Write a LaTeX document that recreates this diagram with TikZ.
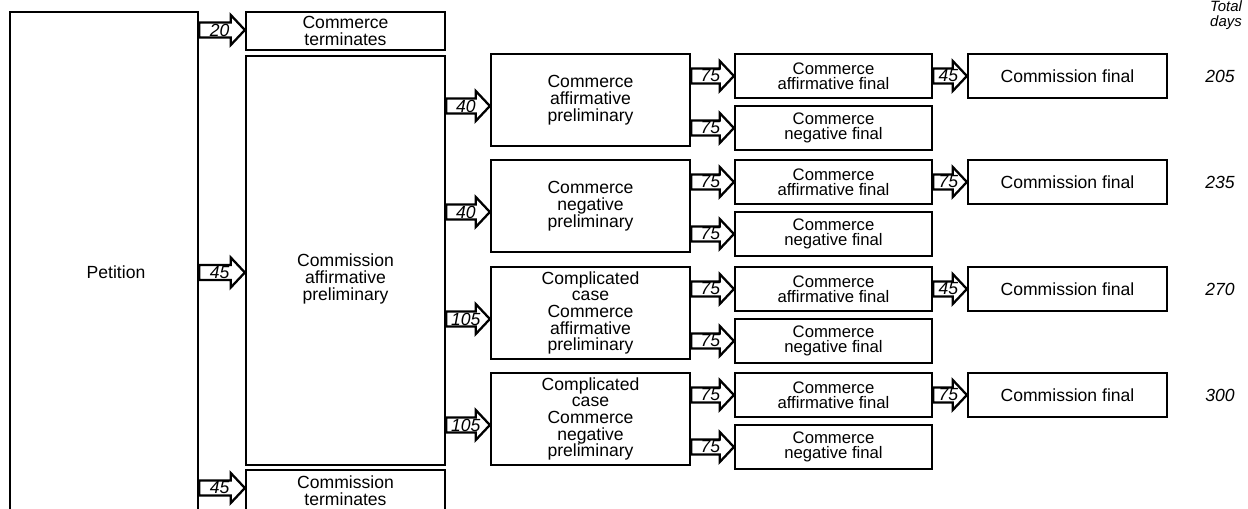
\documentclass[tikz,border=0pt]{standalone}
\usepackage{fontspec}
\setmainfont{Liberation Sans}
\usetikzlibrary{calc}
\tikzset{
    tnode/.style = {align=center, inner sep=0pt, text centered},
    main_box/.style = {tnode, rectangle, draw=black, line width=1.3pt, font=\fontsize{10}{9.5}\selectfont},
    small_box/.style = {main_box, font=\fontsize{9.5}{8.5}\selectfont, minimum height=0.88cm},
    flow_line/.style = {draw=black, fill=white, line width=1.3pt, line join=miter},
    flow_label/.style = {tnode, font=\fontsize{10}{10}\selectfont\itshape},
    total_node/.style = {tnode, font=\fontsize{10}{8}\selectfont\itshape}
}
% block arrow: source, target, y offset (px), days
\newcommand{\flow}[4]{%
    \draw[flow_line] let \p1=($(#1.east |- #2.west)+(0,#3)$), \p2=($(#2.west)+(0,#3)$) in
        (\x1,\y1+4.25pt) -- (\x2-8pt,\y1+4.25pt) -- (\x2-8pt,\y1+8.5pt) -- (\x2,\y1)
        -- (\x2-8pt,\y1-8.5pt) -- (\x2-8pt,\y1-4.25pt) -- (\x1,\y1-4.25pt) -- cycle
        ($(\p1)!0.45!(\p2)$) node[flow_label] (lbl-#2) {#4};
}

\begin{document}
\begin{tikzpicture}[x=0.02cm, y=-0.02cm]
    \useasboundingbox (0,0) rectangle (1248,508);
    \clip (0,0) rectangle (1248,508);
    \node [main_box, minimum width=3.76cm, minimum height=10.4cm] (petition) at (104,272) {};
    \node [tnode, font=\fontsize{10}{9.5}\selectfont] (pettext) at (116,272) {Petition};
    \node [main_box, minimum width=3.98cm, minimum height=0.76cm] (cterm) at (345.5,31) {Commerce\\terminates};
    \node [main_box, minimum width=3.98cm, minimum height=8.18cm] (cap) at (345.5,260.5) {};
    \node [tnode, font=\fontsize{10}{9.5}\selectfont] (captext) at (345.5,279) {Commission\\affirmative\\preliminary};
    \node [main_box, minimum width=3.98cm, minimum height=0.84cm] (kterm) at (345.5,491) {Commission\\terminates};
    \node [total_node, font=\fontsize{8.5}{8.5}\selectfont\itshape] (total) at (1226,15) {Total\\days};
    \flow{petition}{cterm}{-1}{20}
    \flow{petition}{cap}{12}{45}
    \flow{petition}{kterm}{-3}{45}
    \foreach \g/\gy/\txt/\din/\dfin/\tot in {
        1/54/{Commerce\\affirmative\\preliminary}/40/45/205,
        2/160/{Commerce\\negative\\preliminary}/40/75/235,
        3/267/{Complicated\\case\\Commerce\\affirmative\\preliminary}/105/45/270,
        4/373/{Complicated\\case\\Commerce\\negative\\preliminary}/105/75/300}
    {
        \node [main_box, minimum width=3.98cm, minimum height=1.84cm] (mid\g) at (590.5,\gy+46) {\txt};
        \node [small_box, minimum width=3.94cm] (aff\g) at (833.5,\gy+22) {Commerce\\affirmative final};
        \node [small_box, minimum width=3.94cm] (neg\g) at (833.5,\gy+74) {Commerce\\negative final};
        \node [small_box, minimum width=3.98cm, font=\fontsize{10}{10}\selectfont] (fin\g) at (1067.5,\gy+22) {Commission final};
        \node [total_node] (tot\g) at (1220,\gy+22) {\tot};
        \flow{cap}{mid\g}{6}{\din}
        \flow{mid\g}{aff\g}{0}{75}
        \flow{mid\g}{neg\g}{0}{75}
        \flow{aff\g}{fin\g}{0}{\dfin}
    }
\end{tikzpicture}
\end{document}
